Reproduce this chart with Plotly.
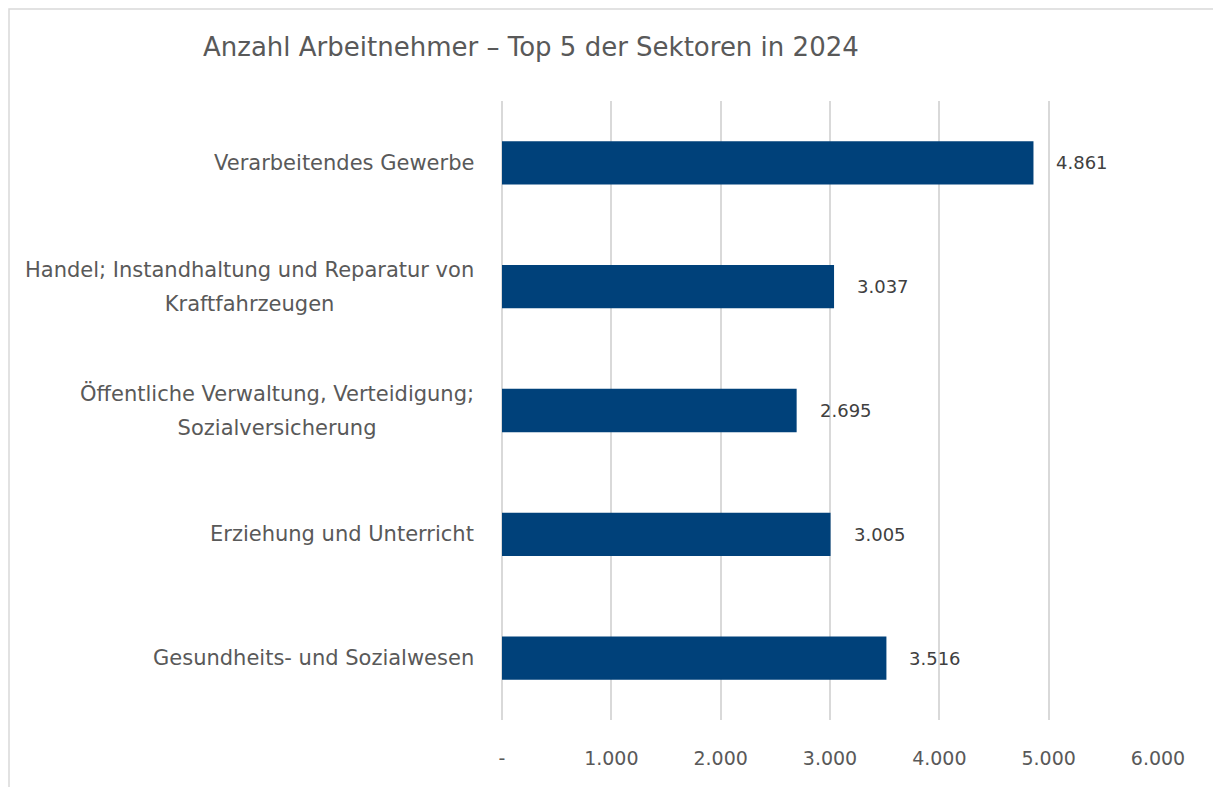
import plotly.graph_objects as go

title = "Anzahl Arbeitnehmer – Top 5 der Sektoren in 2024"
categories = [
    "Verarbeitendes Gewerbe",
    "Handel; Instandhaltung und Reparatur von\nKraftfahrzeugen",
    "Öffentliche Verwaltung, Verteidigung;\nSozialversicherung",
    "Erziehung und Unterricht",
    "Gesundheits- und Sozialwesen",
]
values = [4861, 3037, 2695, 3005, 3516]
tick_vals = [0, 1000, 2000, 3000, 4000, 5000, 6000]
tick_text = ["-", "1.000", "2.000", "3.000", "4.000", "5.000", "6.000"]

FONT = "DejaVu Sans"
GREY = "#595959"
DARK = "#404040"
BAR = "#00417A"
GRID = "#D9D9D9"

# the page body has an 8px margin, so layout is offset by -8px
OFF = 8
W, H = 1221, 787
PW, PH = 656, 619
ML, MT = 502 - OFF, 101 - OFF
MR, MB = W - ML - PW, H - MT - PH

CAT_SIZE = 21
LINE_GAP = 34

fig = go.Figure(go.Bar(
    x=values, y=categories, orientation="h",
    marker=dict(color=BAR, line=dict(width=0)),
    width=0.35, hoverinfo="skip",
))

ann = []
for c, v in zip(categories, values):
    ann.append(dict(
        x=v, y=c, xref="x", yref="y", xanchor="left", yanchor="middle",
        xshift=21, text=f"{v:,}".replace(",", "."), showarrow=False,
        font=dict(family=FONT, size=18, color=DARK),
    ))
    lines = c.split("\n")
    if len(lines) == 1:
        ann.append(dict(
            x=0, y=c, xref="paper", yref="y", xanchor="right", yanchor="middle",
            xshift=-26, text=lines[0], showarrow=False,
            font=dict(family=FONT, size=CAT_SIZE, color=GREY),
        ))
    else:
        # base font sets the line spacing (1.3em), spans set the visible size
        txt = "<br>".join(
            f"<span style='font-size:{CAT_SIZE}px'>{ln}</span>" for ln in lines)
        ann.append(dict(
            x=0, y=c, xref="paper", yref="y", xanchor="right", yanchor="middle",
            align="center", xshift=-26, text=txt, showarrow=False,
            font=dict(family=FONT, size=LINE_GAP / 1.3, color=GREY),
        ))

fig.update_layout(
    width=W, height=H,
    margin=dict(l=ML, r=MR, t=MT, b=MB),
    paper_bgcolor="white", plot_bgcolor="white",
    showlegend=False,
    annotations=ann,
    title=dict(text=title, x=(203 - OFF) / W, xanchor="left", xref="container",
               y=1 - (47 - OFF) / H, yanchor="middle", yref="container",
               font=dict(family=FONT, size=26, color=GREY)),
    xaxis=dict(range=[0, 6000], tickvals=tick_vals, ticktext=tick_text,
               showgrid=True, gridcolor=GRID, gridwidth=1.5,
               zeroline=True, zerolinecolor=GRID, zerolinewidth=1.5,
               showline=False, ticks="",
               ticklabelstandoff=25,
               tickfont=dict(family=FONT, size=19, color=GREY), fixedrange=True),
    yaxis=dict(categoryorder="array", categoryarray=categories, autorange="reversed",
               showticklabels=False, showgrid=False, zeroline=False, showline=False,
               ticks="", fixedrange=True),
    shapes=[dict(type="rect", xref="paper", yref="paper",
                 x0=(1 - ML) / PW, x1=(W + 20 - ML) / PW,
                 y0=-(MB + 20) / PH, y1=(H - MB - 1) / PH,
                 line=dict(color=GRID, width=1.5), fillcolor="rgba(0,0,0,0)",
                 layer="below")],
)

fig.write_html("out.html", config={"displayModeBar": False})
